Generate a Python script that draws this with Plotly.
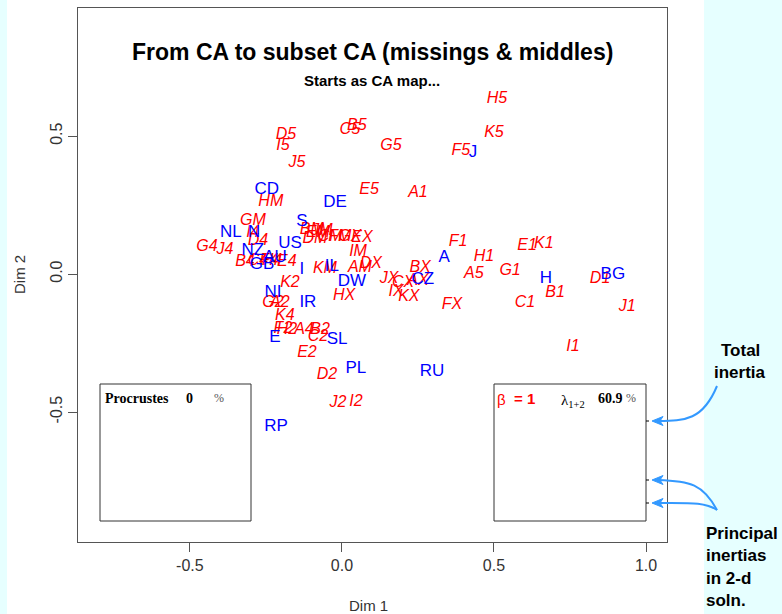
import plotly.graph_objects as go

# ---- data ----
red_labels = ["A1","A2","A4","A5","AM","AX",
              "B1","B2","B4","B5","BM","BX",
              "C1","C2","C4","C5","CM","CX",
              "D1","D2","D4","D5","DM","DX",
              "E1","E2","E4","E5","EM","EX",
              "F1","F2","F4","F5","FM","FX",
              "G1","G2","G4","G5","GM","GX",
              "H1","H2","H4","H5","HM","HX",
              "I1","I2","I4","I5","IM","IX",
              "J1","J2","J4","J5","JM","JX",
              "K1","K2","K4","K5","KM","KX"]
red_x = [0.250,-0.204,-0.125,0.434,0.059,0.250,
         0.701,-0.072,-0.319,0.049,-0.099,0.257,
         0.602,-0.079,-0.276,0.026,-0.039,0.201,
         0.849,-0.049,-0.276,-0.184,-0.089,0.095,
         0.609,-0.115,-0.181,0.089,-0.079,0.066,
         0.382,-0.194,-0.240,0.391,-0.007,0.362,
         0.553,-0.227,-0.444,0.161,-0.293,0.026,
         0.467,-0.181,-0.230,0.510,-0.234,0.007,
         0.760,0.046,-0.293,-0.194,0.053,0.178,
         0.938,-0.013,-0.385,-0.148,-0.066,0.155,
         0.664,-0.171,-0.188,0.500,-0.056,0.220]
red_y = [0.293,-0.105,-0.203,0.000,0.022,-0.025,
         -0.069,-0.203,0.043,0.536,0.159,0.022,
         -0.105,-0.228,0.047,0.522,0.134,-0.033,
         -0.018,-0.366,0.120,0.504,0.127,0.036,
         0.101,-0.286,0.043,0.304,0.149,0.130,
         0.116,-0.199,0.047,0.446,0.134,-0.112,
         0.011,-0.105,0.098,0.464,0.192,0.134,
         0.062,-0.203,0.047,0.634,0.261,-0.080,
         -0.264,-0.464,0.149,0.464,0.080,-0.065,
         -0.120,-0.467,0.087,0.402,0.156,-0.018,
         0.109,-0.033,-0.152,0.511,0.018,-0.083]

blue_labels = ["CD","DE","S","NL","N","US","NZ","AU","GB","I","IL","DW",
               "NI","IR","E","SL","PL","RU","RP","A","CZ","H","BG","J"]
blue_x = [-0.247,-0.023,-0.132,-0.365,-0.289,-0.171,-0.293,-0.220,-0.263,-0.132,-0.033,0.033,
          -0.227,-0.112,-0.220,-0.016,0.046,0.296,-0.217,0.336,0.266,0.671,0.891,0.431]
blue_y = [0.304,0.257,0.188,0.149,0.149,0.109,0.083,0.058,0.033,0.014,0.025,-0.029,
          -0.069,-0.105,-0.232,-0.239,-0.344,-0.355,-0.554,0.058,-0.022,-0.018,-0.004,0.438]

x_ticks = [-0.5, 0.0, 0.5, 1.0]
x_ticktext = ["-0.5", "0.0", "0.5", "1.0"]
y_ticks = [-0.5, 0.0, 0.5]
y_ticktext = ["-0.5", "0.0", "0.5"]

W, H = 782, 614
def px(x): return x / W
def py(y): return 1 - y / H

FONT = "Liberation Sans, Arial, sans-serif"
SERIF = "Liberation Serif, Times New Roman, serif"
ARROW = "#3399ff"

fig = go.Figure()
fig.add_trace(go.Scatter(x=red_x, y=red_y, mode="text", text=red_labels,
                         textposition="middle center",
                         textfont=dict(color="#ff0000", size=16, family=FONT, style="italic"),
                         hoverinfo="skip", showlegend=False))
fig.add_trace(go.Scatter(x=blue_x, y=blue_y, mode="text", text=blue_labels,
                         textposition="middle center",
                         textfont=dict(color="#0000ff", size=17, family=FONT),
                         hoverinfo="skip", showlegend=False))

shapes = []
shapes.append(dict(type="rect", xref="paper", yref="paper", x0=0, x1=px(7), y0=0, y1=1,
                   fillcolor="#e6ffff", line_width=0, layer="below"))
shapes.append(dict(type="rect", xref="paper", yref="paper", x0=px(704), x1=1, y0=0, y1=1,
                   fillcolor="#e6ffff", line_width=0, layer="below"))
for (x0, x1) in [(100, 251), (494, 646)]:
    shapes.append(dict(type="rect", xref="paper", yref="paper", x0=px(x0), x1=px(x1),
                       y0=py(521), y1=py(384), line=dict(color="#333333", width=1),
                       fillcolor="rgba(0,0,0,0)"))
for yy in [421, 480, 503]:
    shapes.append(dict(type="line", xref="paper", yref="paper", x0=px(646), x1=px(649),
                       y0=py(yy), y1=py(yy), line=dict(color="#000000", width=1)))

def curve(p0, c1, c2, p1):
    return (f"M {px(p0[0])},{py(p0[1])} C {px(c1[0])},{py(c1[1])} "
            f"{px(c2[0])},{py(c2[1])} {px(p1[0])},{py(p1[1])}")

def head(tip):
    x, y = tip
    return (f"M {px(x)},{py(y)} L {px(x+11)},{py(y-4.5)} L {px(x+8)},{py(y)} "
            f"L {px(x+11)},{py(y+4.5)} Z")

arrows = [((717, 386), (703, 420), (685, 421), (658, 421), (652, 421)),
          ((717, 510), (703, 484), (690, 481), (658, 480), (652, 480)),
          ((717, 510), (705, 502), (690, 503), (658, 503), (652, 503))]
for p0, c1, c2, p1, tip in arrows:
    shapes.append(dict(type="path", xref="paper", yref="paper", path=curve(p0, c1, c2, p1),
                       line=dict(color=ARROW, width=2)))
    shapes.append(dict(type="path", xref="paper", yref="paper", path=head(tip),
                       fillcolor=ARROW, line=dict(color=ARROW, width=1)))

ann = []
def A(text, x, y, size, xanchor="center", color="#000000", family=FONT, bold=False):
    t = f"<b>{text}</b>" if bold else text
    ann.append(dict(text=t, x=px(x), y=py(y), xref="paper", yref="paper", showarrow=False,
                    xanchor=xanchor, yanchor="middle", font=dict(size=size, color=color, family=family)))

A("From CA to subset CA (missings &amp; middles)", 372, 52, 23, bold=True)
A("Starts as CA map...", 372, 80, 15, bold=True)
A("Dim 1", 368, 605, 15, color="#333333")
ann.append(dict(text="Dim 2", x=px(19), y=py(275), xref="paper", yref="paper", showarrow=False,
                textangle=-90, xanchor="center", yanchor="middle",
                font=dict(size=15, color="#333333", family=FONT)))
A("Procrustes", 103, 398, 14, xanchor="left", family=SERIF, bold=True)
A("0", 189, 398, 14, family=SERIF, bold=True)
A("%", 219, 398, 12, family=SERIF, color="#555555")
A("β", 502, 399, 15, color="#ff0000")
A("= 1", 524, 398, 15, color="#ff0000", bold=True)
A("λ<sub>1+2</sub>", 573, 401, 15, family=SERIF)
A("60.9", 610, 398, 14, family=SERIF, bold=True)
A("%", 631, 398, 12, family=SERIF, color="#555555")
A("Total", 740, 350, 17, bold=True)
A("inertia", 740, 372, 17, bold=True)
for i, line in enumerate(["Principal", "inertias", "in 2-d", "soln."]):
    A(line, 704, 533 + 22.5 * i, 17, xanchor="left", bold=True)

fig.update_layout(
    width=W, height=H, margin=dict(l=0, r=0, t=0, b=0),
    paper_bgcolor="#ffffff", plot_bgcolor="#ffffff",
    shapes=shapes, annotations=ann, showlegend=False,
    xaxis=dict(domain=[px(78), px(667)], range=[-0.868, 1.069], showgrid=False, zeroline=False,
               showline=True, mirror=True, linecolor="#555555", linewidth=1,
               ticks="outside", ticklen=9, tickcolor="#555555",
               tickvals=x_ticks, ticktext=x_ticktext,
               tickfont=dict(size=16, color="#333333", family=FONT)),
    yaxis=dict(domain=[py(542), py(8)], range=[-0.971, 0.964], showgrid=False, zeroline=False,
               showline=True, mirror=True, linecolor="#555555", linewidth=1,
               ticks="outside", ticklen=9, tickcolor="#555555", tickangle=-90,
               tickvals=y_ticks, ticktext=y_ticktext,
               tickfont=dict(size=16, color="#333333", family=FONT)),
)
fig.write_html("out.html", config={"displayModeBar": False},
               post_script="document.body.style.margin='0';document.body.style.overflow='hidden';")
